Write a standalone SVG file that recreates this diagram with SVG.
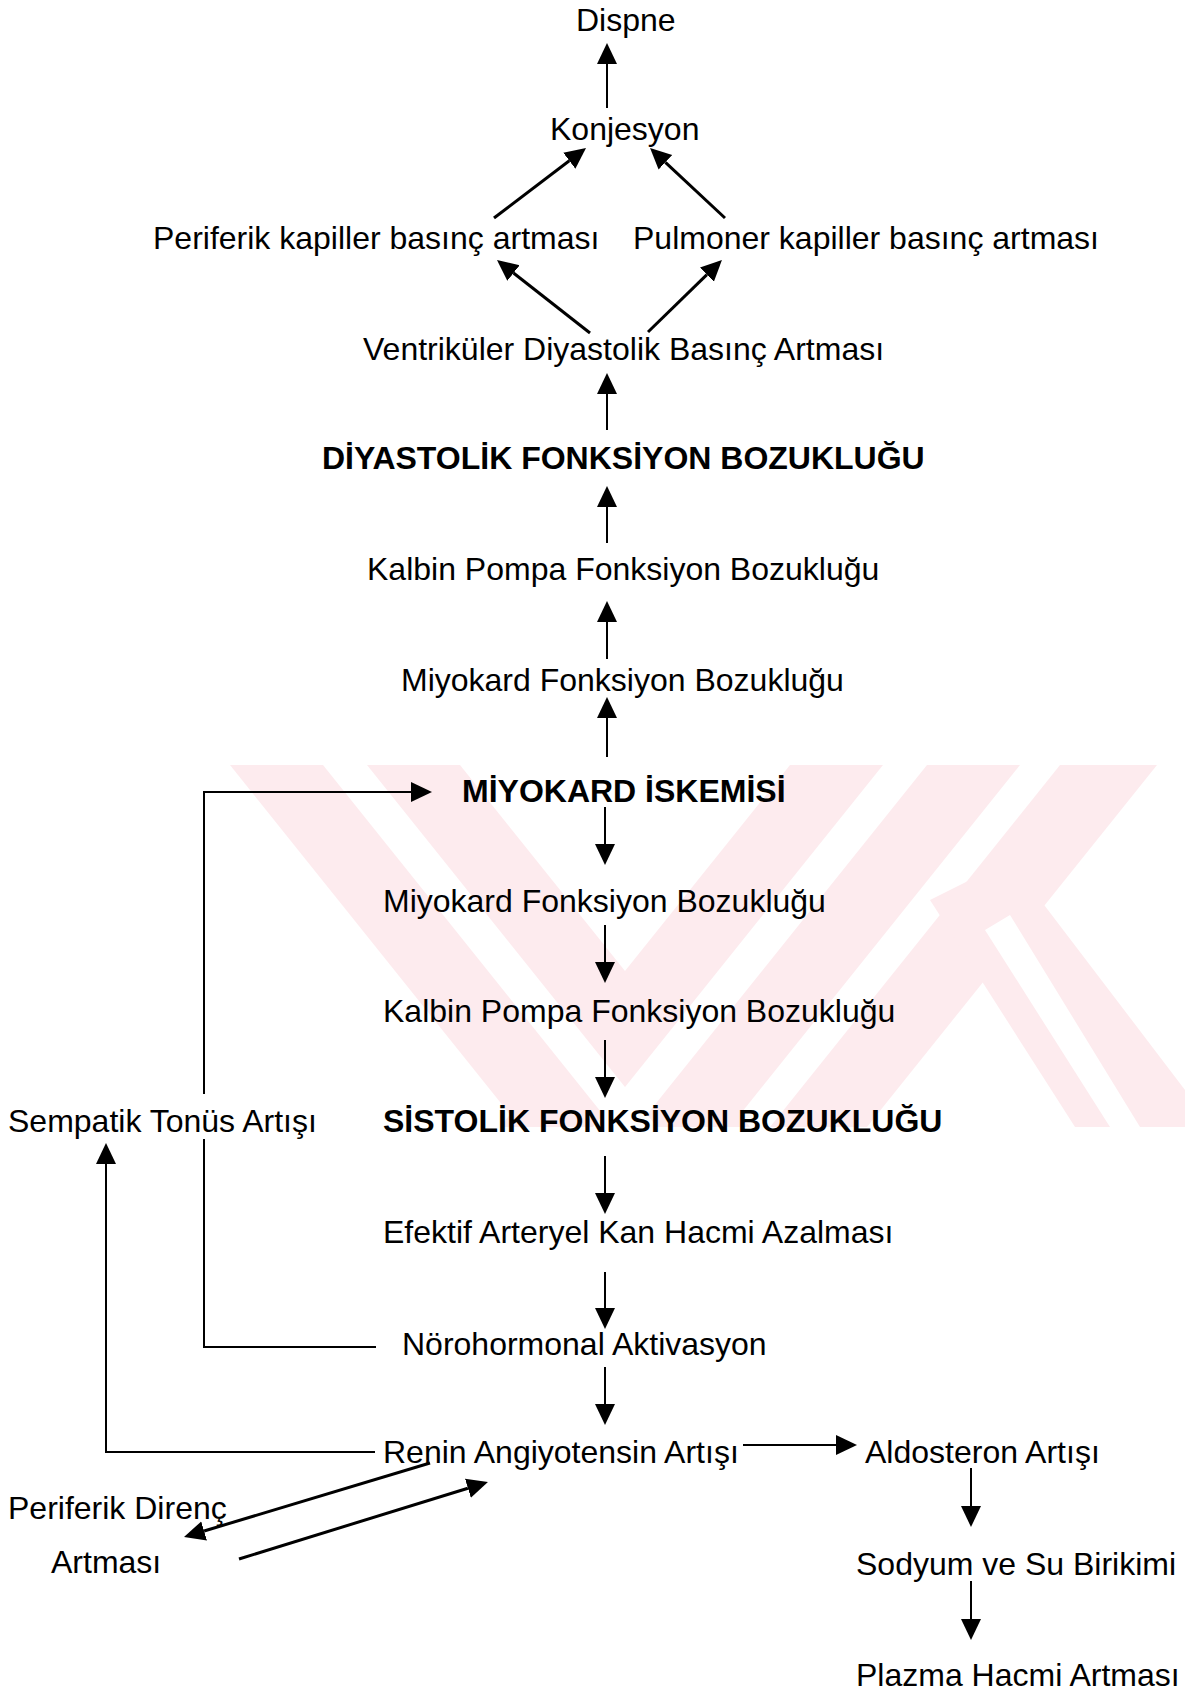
<svg xmlns="http://www.w3.org/2000/svg" width="1185" height="1694" viewBox="0 0 1185 1694">
  <style>
    text { font-family: "Liberation Sans", Arial, sans-serif; font-size: 32px; fill: #000; }
    .b { font-weight: bold; }
    .ln { stroke: #000; stroke-width: 2; fill: none; }
    .dg { stroke: #000; stroke-width: 3; fill: none; }
    .arr { marker-end: url(#head); }
    .wm { fill: #fdebee; }
    .gap { fill: #fff; }
  </style>
  <defs>
    <marker id="head" markerUnits="userSpaceOnUse" viewBox="0 -11 22 22" markerWidth="22" markerHeight="22" refX="0" refY="0" orient="auto">
      <path d="M0,-10 L21,0 L0,10 Z" fill="#000"/>
    </marker>
    <clipPath id="band">
      <rect x="0" y="765" width="1185" height="362"/>
    </clipPath>
  </defs>

  <rect width="1185" height="1694" fill="#fff"/>

  <!-- faint background emblem: two chevron arms and a K made of pale bands -->
  <g id="emblem" clip-path="url(#band)">
    <!-- left arm, double band -->
    <polygon class="wm" points="230,765 460,765 750,1127 520,1127"/>
    <!-- right arm, double band -->
    <polygon class="wm" points="790,765 1020,765 730,1127 500,1127"/>
    <!-- upper arm of K -->
    <polygon class="wm" points="1060,765 1157,765 867,1127 770,1127"/>
    <!-- lower arm of K -->
    <polygon class="wm" points="930,900 1010,860 1185,1090 1185,1127 1075,1127"/>
    <!-- thin white lines inside the bands -->
    <polygon class="gap" points="323,765 367,765 657,1127 613,1127"/>
    <polygon class="gap" points="883,765 927,765 637,1127 593,1127"/>
    <polygon class="gap" points="985,930 1010,915 1140,1127 1110,1127"/>
  </g>

  <!-- connectors -->
  <g id="connectors">
    <!-- upper chain, pointing up -->
    <line class="ln arr" x1="607" y1="108" x2="607" y2="64"/>
    <line class="dg arr" x1="494" y1="218" x2="569.3" y2="160.7"/>
    <line class="dg arr" x1="725" y1="218" x2="665.4" y2="162.3"/>
    <line class="dg arr" x1="590" y1="333" x2="513.5" y2="273"/>
    <line class="dg arr" x1="648" y1="332" x2="706.9" y2="274.7"/>
    <line class="ln arr" x1="607" y1="430" x2="607" y2="394"/>
    <line class="ln arr" x1="607" y1="543" x2="607" y2="507"/>
    <line class="ln arr" x1="607" y1="659" x2="607" y2="622"/>
    <line class="ln arr" x1="607" y1="757" x2="607" y2="718"/>

    <!-- lower chain, pointing down -->
    <line class="ln arr" x1="605" y1="807" x2="605" y2="844"/>
    <line class="ln arr" x1="605" y1="925" x2="605" y2="962"/>
    <line class="ln arr" x1="605" y1="1040" x2="605" y2="1077"/>
    <line class="ln arr" x1="605" y1="1156" x2="605" y2="1193"/>
    <line class="ln arr" x1="605" y1="1272" x2="605" y2="1308"/>
    <line class="ln arr" x1="605" y1="1367" x2="605" y2="1404"/>

    <!-- renin branch -->
    <line class="ln arr" x1="743" y1="1445" x2="836" y2="1445"/>
    <line class="ln arr" x1="971" y1="1468" x2="971" y2="1506"/>
    <line class="ln arr" x1="971" y1="1581" x2="971" y2="1619"/>
    <line class="dg arr" x1="430" y1="1463" x2="204.1" y2="1531"/>
    <line class="dg arr" x1="239" y1="1559" x2="467.9" y2="1488.2"/>

    <!-- feedback loops -->
    <path class="ln" d="M376,1347 H204 V1139"/>
    <path class="ln arr" d="M204,1094 V792 H411"/>
    <path class="ln arr" d="M375,1452 H106 V1164"/>
  </g>

  <g id="n-dispne"><text x="576" y="31">Dispne</text></g>
  <g id="n-konjesyon"><text x="550" y="140">Konjesyon</text></g>
  <g id="n-periferik-kapiller"><text x="153" y="249">Periferik kapiller basınç artması</text></g>
  <g id="n-pulmoner-kapiller"><text x="633" y="249">Pulmoner kapiller basınç artması</text></g>
  <g id="n-ventrikuler"><text x="363" y="360">Ventriküler Diyastolik Basınç Artması</text></g>
  <g id="n-diyastolik"><text class="b" x="322" y="469">DİYASTOLİK FONKSİYON BOZUKLUĞU</text></g>
  <g id="n-kalbin-1"><text x="367" y="580">Kalbin Pompa Fonksiyon Bozukluğu</text></g>
  <g id="n-miyokard-1"><text x="401" y="691">Miyokard Fonksiyon Bozukluğu</text></g>
  <g id="n-iskemi"><text class="b" x="462" y="802">MİYOKARD İSKEMİSİ</text></g>
  <g id="n-miyokard-2"><text x="383" y="912">Miyokard Fonksiyon Bozukluğu</text></g>
  <g id="n-kalbin-2"><text x="383" y="1022">Kalbin Pompa Fonksiyon Bozukluğu</text></g>
  <g id="n-sistolik"><text class="b" x="383" y="1132">SİSTOLİK FONKSİYON BOZUKLUĞU</text></g>
  <g id="n-sempatik"><text x="8" y="1132">Sempatik Tonüs Artışı</text></g>
  <g id="n-efektif"><text x="383" y="1243">Efektif Arteryel Kan Hacmi Azalması</text></g>
  <g id="n-norohormonal"><text x="402" y="1355">Nörohormonal Aktivasyon</text></g>
  <g id="n-renin"><text x="383" y="1463">Renin Angiyotensin Artışı</text></g>
  <g id="n-aldosteron"><text x="865" y="1463">Aldosteron Artışı</text></g>
  <g id="n-periferik-direnc"><text x="8" y="1519">Periferik Direnç</text><text x="51" y="1573">Artması</text></g>
  <g id="n-sodyum"><text x="856" y="1575">Sodyum ve Su Birikimi</text></g>
  <g id="n-plazma"><text x="856" y="1686">Plazma Hacmi Artması</text></g>
</svg>
